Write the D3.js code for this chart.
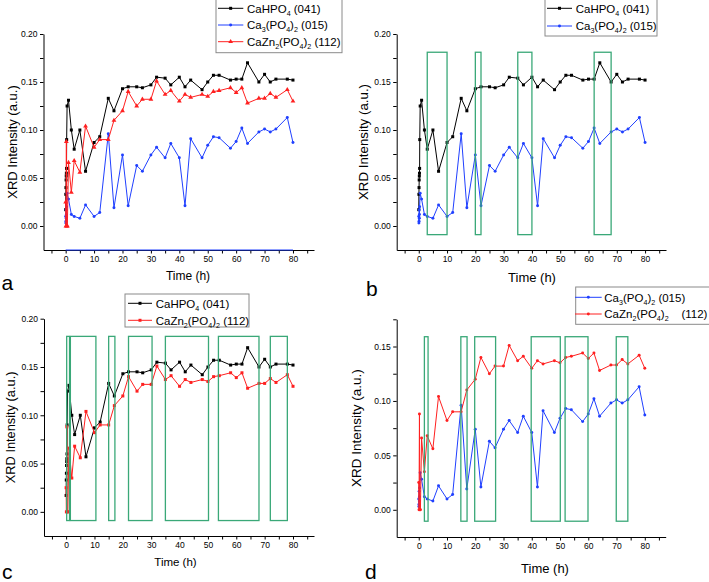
<!DOCTYPE html>
<html>
<head>
<meta charset="utf-8">
<title>XRD intensity vs time</title>
<script src="https://cdn.jsdelivr.net/npm/d3@7"></script>
<style>
body { margin: 0; background: #fff; }
svg { display: block; font-family: "Liberation Sans", Arial, sans-serif; }
.leg text { white-space: pre; }
</style>
</head>
<body>
<svg id="chart" width="709" height="582"></svg>
<script>
// sampling times (h), shared after the first hour
var tMain = [1, 2, 3, 5, 7, 10, 12, 15, 17, 20, 22, 25, 27, 30, 32, 35, 37, 40, 42, 44,
             48, 50, 52, 54, 58, 60, 62, 64, 68, 70, 72, 74, 78, 80];

// CaHPO4 (041)
var tHpoEarly = [0, 0.05, 0.1, 0.15, 0.2, 0.25, 0.3, 0.35, 0.5];
var hpoEarly  = [0.017, 0.033, 0.040, 0.048, 0.052, 0.055, 0.060, 0.090, 0.125];
var hpoMain   = [0.131, 0.100, 0.080, 0.100, 0.057, 0.087, 0.093, 0.133, 0.120, 0.143, 0.145, 0.145,
                 0.144, 0.147, 0.155, 0.154, 0.147, 0.155, 0.145, 0.152, 0.142, 0.150, 0.157, 0.157,
                 0.152, 0.153, 0.153, 0.170, 0.150, 0.158, 0.150, 0.153, 0.153, 0.152];

// Ca3(PO4)2 (015)
var tTcpEarly = [0, 0.05, 0.1, 0.15, 0.2, 0.25, 0.3, 0.5];
var tcpEarly  = [0.010, 0.003, 0.005, 0.017, 0.008, 0.012, 0.020, 0.034];
var tcpMain   = [0.028, 0.012, 0.010, 0.008, 0.022, 0.010, 0.014, 0.096, 0.019, 0.074, 0.021, 0.063,
                 0.057, 0.074, 0.082, 0.071, 0.086, 0.071, 0.021, 0.091, 0.071, 0.084, 0.093, 0.092,
                 0.081, 0.088, 0.102, 0.086, 0.098, 0.101, 0.098, 0.101, 0.113, 0.087];

// CaZn2(PO4)2 (112)
var tCzpEarly = [0, 0.1, 0.25, 0.4, 0.6];
var czpEarly  = [0.025, 0.000, 0.088, 0.000, 0.000];
var czpMain   = [0.066, 0.035, 0.068, 0.056, 0.104, 0.082, 0.090, 0.090, 0.110, 0.120, 0.140, 0.125,
                 0.132, 0.132, 0.151, 0.137, 0.141, 0.130, 0.137, 0.134, 0.137, 0.135, 0.140, 0.141,
                 0.144, 0.139, 0.144, 0.128, 0.133, 0.133, 0.138, 0.134, 0.142, 0.130];

// green highlight windows [start, end] in h, and their vertical extent
var windowsB = [[3, 10], [20, 22], [35, 40], [62, 68]];
var windowsC = [[0.2, 1.2], [1.5, 10.5], [15, 17.2], [22, 30.3], [35, 50.2], [53.7, 68], [72, 78]];
var windowsD = [[2, 3.3], [14.9, 17.1], [19.8, 27.2], [39.8, 50.1], [51.8, 59.9], [69.9, 74]];
var windowYB = [-0.009, 0.181];
var windowYC = [-0.009, 0.1817];
var windowYD = [-0.0105, 0.159];

var xDomain = [-7.8, 87.4];

var series = {
  hpo: { label: "CaHPO_4 (041)",        color: "#000000", t: tHpoEarly.concat(tMain), v: hpoEarly.concat(hpoMain) },
  tcp: { label: "Ca_3(PO_4)_2 (015)",   color: "#2040ff", t: tTcpEarly.concat(tMain), v: tcpEarly.concat(tcpMain) },
  czp: { label: "CaZn_2(PO_4)_2 (112)", color: "#ff2020", t: tCzpEarly.concat(tMain), v: czpEarly.concat(czpMain) }
};

var panels = [
  { letter: "a", left: 43.5, right: 314, top: 34, bottom: 250, yMax: 0.20,
    lines: [["hpo", "square"], ["tcp", "circle"], ["czp", "triangle"]],
    leg: { x0: 216, x1: 342, y0: -1, y1: 52.7, rows: [8.3, 25, 41.7], l0: 218, l1: 243.3, tx: 247 },
    let: [1.5, 289.5], ylab: [12, 13], xlab: [188, 280, 12], axisBlue: true },
  { letter: "b", left: 396.7, right: 666, top: 34, bottom: 250, yMax: 0.20,
    lines: [["hpo", "square"], ["tcp", "circle"]],
    leg: { x0: 545, x1: 657, y0: -1, y1: 36, rows: [8.3, 26], l0: 547, l1: 572, tx: 575.7 },
    let: [366, 296], ylab: [363.5, 13.3], xlab: [532, 281.5, 13],
    windows: windowsB, windowY: windowYB },
  { letter: "c", left: 44, right: 314, top: 318.7, bottom: 536, yMax: 0.20,
    lines: [["hpo", "square"], ["czp", "square"]],
    leg: { x0: 125, x1: 249, y0: 294, y1: 327, rows: [303.3, 320.3], l0: 128, l1: 152, tx: 155.7 },
    let: [2, 578.5], ylab: [10, 12.8], xlab: [175.5, 566, 11.5],
    windows: windowsC, windowY: windowYC },
  { letter: "d", left: 396.7, right: 665.7, top: 319.3, bottom: 537, yMax: 0.175,
    lines: [["tcp", "circle"], ["czp", "circle"]],
    leg: { x0: 575.7, x1: 712, y0: 287, y1: 324.3, rows: [297.3, 314], l0: 575, l1: 601.7, tx: 604.3,
           labels: ["Ca_3(PO_4)_2 (015)", "CaZn_2(PO_4)_2    (112)"] },
    let: [365, 578.5], ylab: [356, 13.5], xlab: [545, 572.5, 13],
    windows: windowsD, windowY: windowYD }
];

var svg = d3.select("#chart");
var green = "#3aa878";

var symbolType = { square: d3.symbolSquare, circle: d3.symbolCircle, triangle: d3.symbolTriangle };
var symbolSize = { square: 9, circle: 7, triangle: 10 };

// "Ca_3(PO_4)_2" -> text with subscripts
function richText(sel, str, size) {
  var parts = str.split(/_(\d)/);
  parts.forEach(function(p, i) {
    if (p === "") return;
    var sub = i % 2 === 1;
    sel.append("tspan")
       .attr("font-size", sub ? size * 0.62 : size)
       .attr("dy", sub ? 3 : (i > 0 ? -3 : 0))
       .text(p);
  });
}

panels.forEach(function(p) {
  var g = svg.append("g");
  var x = d3.scaleLinear().domain(xDomain).range([p.left, p.right]);
  var y = d3.scaleLinear().domain([-0.025, p.yMax]).range([p.bottom, p.top]);

  // axes
  var xAxis = d3.axisBottom(x)
    .tickValues(d3.range(-5, 86, 5))
    .tickSize(3.5).tickSizeOuter(0).tickPadding(2)
    .tickFormat(function(d) { return d % 10 === 0 && d >= 0 ? d : ""; });
  var yTicks = d3.range(Math.round(p.yMax / 0.025) + 1).map(function(i) { return i * 0.025; });
  var yAxis = d3.axisLeft(y)
    .tickValues(yTicks)
    .tickSize(3.5).tickSizeOuter(0).tickPadding(2.5)
    .tickFormat(function(d) { return Math.round(d * 40) % 2 === 0 ? d3.format(".2f")(d) : ""; });

  g.append("g").attr("transform", "translate(0," + p.bottom + ")").call(xAxis)
    .call(function(a) { a.selectAll("text").attr("font-size", 8.5).attr("font-family", null); });
  g.append("g").attr("transform", "translate(" + p.left + ",0)").call(yAxis)
    .call(function(a) { a.selectAll("text").attr("font-size", 8.5).attr("font-family", null); });
  g.selectAll(".domain").attr("stroke", "#000");
  g.selectAll(".tick line").attr("stroke", "#000");

  if (p.axisBlue) {
    g.append("line")
      .attr("x1", x(0)).attr("x2", x(80))
      .attr("y1", y(-0.025)).attr("y2", y(-0.025))
      .attr("stroke", series.tcp.color).attr("stroke-width", 1);
  }

  // series
  p.lines.forEach(function(l) {
    var s = series[l[0]];
    var pts = s.t.map(function(t, i) { return [t, s.v[i]]; });
    g.append("path")
      .datum(pts)
      .attr("fill", "none")
      .attr("stroke", s.color)
      .attr("stroke-width", 1)
      .attr("d", d3.line().x(function(d) { return x(d[0]); }).y(function(d) { return y(d[1]); }));
    g.append("g").selectAll("path")
      .data(pts)
      .join("path")
      .attr("transform", function(d) { return "translate(" + x(d[0]) + "," + y(d[1]) + ")"; })
      .attr("d", d3.symbol().type(symbolType[l[1]]).size(symbolSize[l[1]]))
      .attr("fill", s.color);
  });

  // highlight windows
  if (p.windows) {
    g.append("g").selectAll("rect")
      .data(p.windows)
      .join("rect")
      .attr("x", function(d) { return x(d[0]); })
      .attr("width", function(d) { return x(d[1]) - x(d[0]); })
      .attr("y", y(p.windowY[1]))
      .attr("height", y(p.windowY[0]) - y(p.windowY[1]))
      .attr("fill", "none")
      .attr("stroke", green)
      .attr("stroke-width", 1.3);
  }

  // axis titles
  g.append("text")
    .attr("transform", "translate(" + (p.ylab[0] + p.ylab[1] * 0.36) + "," + ((p.top + p.bottom) / 2) + ") rotate(-90)")
    .attr("text-anchor", "middle")
    .attr("font-size", p.ylab[1])
    .text("XRD Intensity (a.u.)");
  g.append("text")
    .attr("x", p.xlab[0]).attr("y", p.xlab[1])
    .attr("text-anchor", "middle")
    .attr("font-size", p.xlab[2])
    .text("Time (h)");

  g.append("text")
    .attr("x", p.let[0]).attr("y", p.let[1])
    .attr("font-size", 21)
    .text(p.letter);

  // legend
  var L = p.leg;
  var leg = g.append("g").attr("class", "leg");
  leg.append("rect")
    .attr("x", L.x0).attr("y", L.y0)
    .attr("width", L.x1 - L.x0).attr("height", L.y1 - L.y0)
    .attr("fill", "#fff").attr("stroke", "#8a8a8a").attr("stroke-width", 1);
  p.lines.forEach(function(l, i) {
    var s = series[l[0]];
    var ry = L.rows[i];
    leg.append("line")
      .attr("x1", L.l0).attr("x2", L.l1).attr("y1", ry).attr("y2", ry)
      .attr("stroke", s.color).attr("stroke-width", 1);
    leg.append("path")
      .attr("transform", "translate(" + ((L.l0 + L.l1) / 2) + "," + ry + ")")
      .attr("d", d3.symbol().type(symbolType[l[1]]).size(symbolSize[l[1]]))
      .attr("fill", s.color);
    var t = leg.append("text").attr("x", L.tx).attr("y", ry + 4.2);
    richText(t, L.labels ? L.labels[i] : s.label, 11.5);
  });
});
</script>
</body>
</html>
